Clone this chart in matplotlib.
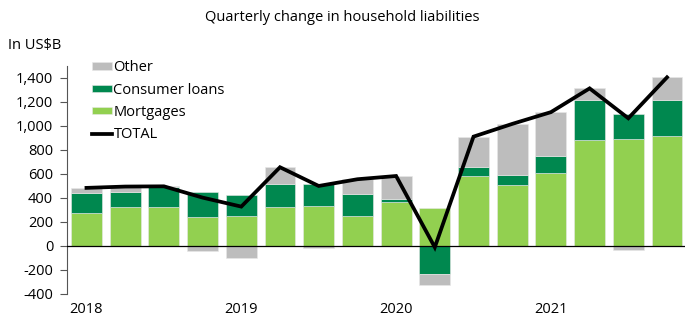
import numpy as np
import matplotlib
matplotlib.use("Agg")
import matplotlib.pyplot as plt

plt.rcParams['font.family'] = ['Open Sans', 'DejaVu Sans']

# quarterly data, 2018Q1 .. 2021Q4 (US$B)
quarters = ['2018Q1', '2018Q2', '2018Q3', '2018Q4',
            '2019Q1', '2019Q2', '2019Q3', '2019Q4',
            '2020Q1', '2020Q2', '2020Q3', '2020Q4',
            '2021Q1', '2021Q2', '2021Q3', '2021Q4']
mortgages = [272, 325, 328, 240, 250, 328, 333, 250, 367, 314, 583, 511, 605, 883, 892, 917]
consumer = [172, 128, 166, 207, 175, 192, 181, 186, 22, -236, 78, 81, 148, 334, 205, 302]
other = [40, 40, 3, -44, -97, 136, -14, 120, 194, -89, 250, 425, 362, 96, -33, 186]
totals = [484, 495, 497, 403, 328, 656, 500, 556, 583, -11, 911, 1017, 1115, 1313, 1064, 1405]
year_labels = ['2018', '2019', '2020', '2021']

c_mort = '#92D050'
c_cons = '#00884F'
c_other = '#BDBDBD'

fig = plt.figure(figsize=(6.85, 3.17), dpi=100)
ax = fig.add_axes([0.098, 0.0726, 0.904, 0.7194])

x = np.arange(len(quarters))
pos = np.zeros(len(x))
neg = np.zeros(len(x))
for vals, col, lab in [(mortgages, c_mort, 'Mortgages'),
                       (consumer, c_cons, 'Consumer loans'),
                       (other, c_other, 'Other')]:
    v = np.array(vals, dtype=float)
    bottom = np.where(v >= 0, pos, neg)
    ax.bar(x, v, bottom=bottom, width=0.8, color=col, label=lab,
           edgecolor='#e8e8e8', linewidth=0.4)
    pos = pos + np.where(v >= 0, v, 0)
    neg = neg + np.where(v < 0, v, 0)

ax.axhline(0, color='black', lw=0.9, zorder=3)
ax.plot(x, totals, color='black', lw=2.7, label='TOTAL', zorder=4,
        solid_joinstyle='miter')

ax.set_xlim(-0.5, 15.5)
ax.set_ylim(-400, 1500)
ax.set_yticks(np.arange(-400, 1401, 200))
ax.set_yticklabels(['{:,}'.format(t) for t in range(-400, 1401, 200)])
ax.set_xticks(x[::4])
ax.set_xticklabels(year_labels)
ax.tick_params(axis='x', length=0, pad=6, labelsize=10.5)
ax.tick_params(axis='y', direction='out', length=5, width=0.8,
               color='#555555', labelsize=10.5, pad=5)
for s in ['top', 'right', 'bottom']:
    ax.spines[s].set_visible(False)
ax.spines['left'].set_color('#555555')
ax.spines['left'].set_bounds(-400, 1500)

handles, labels = ax.get_legend_handles_labels()
order = [labels.index(n) for n in ['Other', 'Consumer loans', 'Mortgages', 'TOTAL']]
ax.legend([handles[i] for i in order], [labels[i] for i in order],
          loc='upper left', bbox_to_anchor=(0.03, 1.05), frameon=False,
          fontsize=10.5, handlelength=1.4, handleheight=0.4,
          handletextpad=0.1, labelspacing=0.5, borderaxespad=0)

fig.text(0.5, 0.945, 'Quarterly change in household liabilities',
         ha='center', va='center', fontsize=10.5)
fig.text(0.012, 0.858, 'In US$B', ha='left', va='center', fontsize=10.5)

fig.savefig('out.png', dpi=100)
